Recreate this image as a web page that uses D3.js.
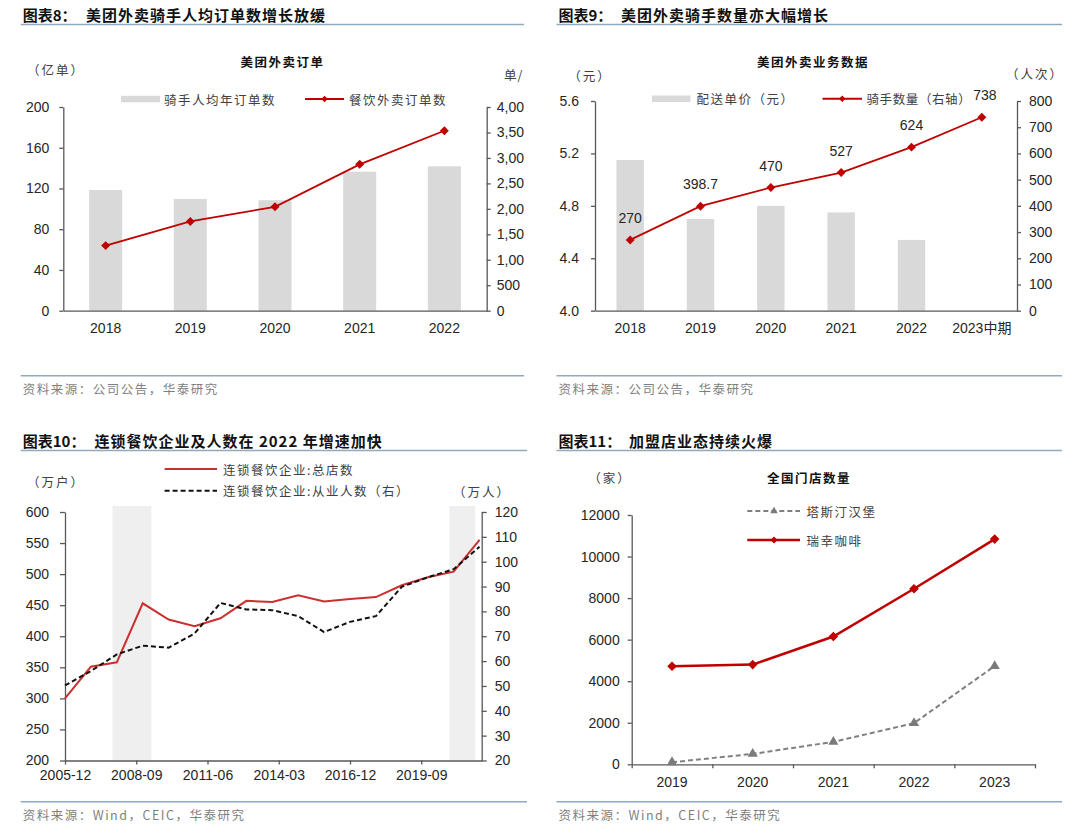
<!DOCTYPE html>
<html>
<head>
<meta charset="utf-8">
<script src="https://cdn.jsdelivr.net/npm/d3@7"></script>
<style>
  body { margin: 0; background: #fff; }
  svg { display: block; }
</style>
</head>
<body>
<div id="root"></div>
<script>
// ---- chart 8: meituan orders ----
const orderYears = ["2018", "2019", "2020", "2021", "2022"];
const riderOrdersPerCapita = [2370, 2195, 2170, 2730, 2835]; // 单/人, right axis
const foodOrders = [63.9, 87.6, 102.0, 143.7, 176.7]; // 亿单, left axis
const orderLeftTicks = [0, 40, 80, 120, 160, 200];
const orderRightTicks = [0, 500, 1000, 1500, 2000, 2500, 3000, 3500, 4000];

// ---- chart 9: riders ----
const riderYears = ["2018", "2019", "2020", "2021", "2022", "2023中期"];
const deliveryPrice = [5.15, 4.70, 4.80, 4.75, 4.54, null]; // 元
const riderCount = [270, 398.7, 470, 527, 624, 738]; // 万人次
const riderCountLabels = ["270", "398.7", "470", "527", "624", "738"];
const priceTicks = [4.0, 4.4, 4.8, 5.2, 5.6];
const riderTicks = [0, 100, 200, 300, 400, 500, 600, 700, 800];

// ---- chart 10: chain restaurants ----
const chainDates = ["2005-12", "2006-12", "2007-12", "2008-12", "2009-12", "2010-12",
  "2011-12", "2012-12", "2013-12", "2014-12", "2015-12", "2016-12", "2017-12",
  "2018-12", "2019-12", "2020-12", "2021-12"];
const chainStores = [300, 351, 358, 453, 427, 416, 429, 457, 455, 466, 456, 460, 463, 482, 495, 504, 555];
const chainEmployees = [50.2, 56.0, 62.7, 66.2, 65.4, 71.1, 83.4, 80.8, 80.5, 78.1, 71.7, 75.8, 78.1, 89.9, 93.7, 97.0, 106.0];
const chainTickLabels = ["2005-12", "2008-09", "2011-06", "2014-03", "2016-12", "2019-09"];
const chainAxisEnd = "2022-01";
const shadedPeriods = [["2007-10", "2009-04"], ["2020-10", "2021-10"]];
const storeTicks = [200, 250, 300, 350, 400, 450, 500, 550, 600];
const employeeTicks = [20, 30, 40, 50, 60, 70, 80, 90, 100, 110, 120];

// ---- chart 11: franchise stores ----
const storeYears = ["2019", "2020", "2021", "2022", "2023"];
const tastienStores = [100, 500, 1080, 1980, 4730];
const luckinStores = [4720, 4800, 6150, 8450, 10840];
const storeCountTicks = [0, 2000, 4000, 6000, 8000, 10000, 12000];

const RED = "#c00000";
const RED2 = "#cc2f2f";
const AXIS = "#595959";
const BAR = "#d9d9d9";
const RULE = "#8eaac3";
const INK = "#262626";
const SOFT = "#404040";
const CJK = '"Noto Sans CJK SC", sans-serif';
const NUM = '"Liberation Sans", Arial, "Noto Sans CJK SC", sans-serif';

const svg = d3.select("#root").append("svg").attr("width", 1080).attr("height", 828);

svg.append("defs").append("clipPath").attr("id", "clipLeftTop")
  .append("rect").attr("x", 0).attr("y", 0).attr("width", 524).attr("height", 414);

const diamondPath = (size) => d3.symbol(d3.symbolSquare, size)();
const trianglePath = (size) => d3.symbol(d3.symbolTriangle, size)();

function styleAxis(sel) {
  sel.select(".domain").attr("stroke", AXIS).attr("stroke-width", 1.3);
  sel.selectAll(".tick line").attr("stroke", AXIS).attr("stroke-width", 1.3);
  sel.selectAll(".tick text").attr("fill", INK)
    .style("font-family", NUM).style("font-size", "14px");
}

function cjkText(g, x, y, str, opts = {}) {
  return g.append("text")
    .attr("x", x).attr("y", y)
    .attr("dominant-baseline", "central")
    .attr("text-anchor", opts.anchor || "start")
    .attr("fill", opts.fill || SOFT)
    .style("font-family", CJK)
    .style("font-size", (opts.size || 12.5) + "px")
    .style("font-weight", opts.weight || 400)
    .style("letter-spacing", (opts.spacing ?? 1.5) + "px")
    .text(str);
}

function frame(g, o) {
  const t = g.append("text").attr("y", o.titleY)
    .attr("dominant-baseline", "central")
    .attr("fill", "#111")
    .style("font-family", CJK).style("font-size", "15px").style("font-weight", 700);
  t.append("tspan").attr("x", o.left + 2).text(o.label);
  t.append("tspan").attr("x", o.bodyX).style("letter-spacing", "1px").text(o.body);

  g.append("line").attr("x1", o.left).attr("x2", o.right)
    .attr("y1", o.ruleY).attr("y2", o.ruleY)
    .attr("stroke", RULE).attr("stroke-width", 1.6);
  g.append("line").attr("x1", o.left).attr("x2", o.right)
    .attr("y1", o.footY).attr("y2", o.footY)
    .attr("stroke", RULE).attr("stroke-width", 1.6);
  cjkText(g, o.left + 2, o.footY + 12.5, o.source, { fill: "#7f7f7f" });
}

function legendDiamond(g, x1, x2, y, color) {
  g.append("line").attr("x1", x1).attr("x2", x2).attr("y1", y).attr("y2", y)
    .attr("stroke", color).attr("stroke-width", 2);
  g.append("path").attr("d", diamondPath(22))
    .attr("transform", `translate(${(x1 + x2) / 2},${y}) rotate(45)`)
    .attr("fill", color);
}

// ================= chart 8 =================
function drawOrders() {
  const g = svg.append("g").attr("clip-path", "url(#clipLeftTop)");
  frame(g, {
    left: 20.7, right: 527, titleY: 13.5, ruleY: 24.5, footY: 375.7,
    label: "图表8：", body: "美团外卖骑手人均订单数增长放缓", bodyX: 86,
    source: "资料来源：公司公告，华泰研究"
  });

  const x0 = 63.3, x1 = 486.7, yTop = 107, yBot = 310.7;
  const x = d3.scaleBand().domain(orderYears).range([x0, x1]).paddingInner(0.61).paddingOuter(0.305);
  const yL = d3.scaleLinear().domain([0, 200]).range([yBot, yTop]);
  const yR = d3.scaleLinear().domain([0, 4000]).range([yBot, yTop]);

  cjkText(g, 282.5, 61, "美团外卖订单", { anchor: "middle", weight: 700, fill: "#111" });
  cjkText(g, 56, 69.5, "（亿单）", { anchor: "middle", spacing: 2 });
  cjkText(g, 504, 74, "单/人", { spacing: 1 });

  g.selectAll(".bar8").data(riderOrdersPerCapita).join("rect")
    .attr("class", "bar8")
    .attr("x", (d, i) => x(orderYears[i]))
    .attr("width", x.bandwidth())
    .attr("y", (d) => yR(d))
    .attr("height", (d) => yBot - yR(d))
    .attr("fill", BAR);

  g.append("g").attr("transform", `translate(${x0},0)`)
    .call(d3.axisLeft(yL).tickValues(orderLeftTicks).tickSize(4).tickSizeOuter(0).tickPadding(10))
    .call(styleAxis);
  g.append("g").attr("transform", `translate(${x1},0)`)
    .call(d3.axisRight(yR).tickValues(orderRightTicks).tickFormat(d3.format(","))
      .tickSize(4).tickSizeOuter(0).tickPadding(6))
    .call(styleAxis);
  g.append("g").attr("transform", `translate(0,${yBot})`)
    .call(d3.axisBottom(x).tickSize(0).tickPadding(12))
    .call(styleAxis);

  const cx = (i) => x(orderYears[i]) + x.bandwidth() / 2;
  const line = d3.line().x((d, i) => cx(i)).y((d) => yL(d));
  g.append("path").datum(foodOrders).attr("d", line)
    .attr("fill", "none").attr("stroke", RED).attr("stroke-width", 1.8);
  g.selectAll(".dot8").data(foodOrders).join("path")
    .attr("class", "dot8")
    .attr("d", diamondPath(40))
    .attr("transform", (d, i) => `translate(${cx(i)},${yL(d)}) rotate(45)`)
    .attr("fill", RED);

  // legend
  g.append("rect").attr("x", 121).attr("y", 95.8).attr("width", 39).attr("height", 6.5).attr("fill", BAR);
  cjkText(g, 164, 99, "骑手人均年订单数");
  legendDiamond(g, 305, 344, 99, RED);
  cjkText(g, 349, 99, "餐饮外卖订单数");
}

// ================= chart 9 =================
function drawRiders() {
  const g = svg.append("g");
  frame(g, {
    left: 556.5, right: 1062, titleY: 13.5, ruleY: 24.5, footY: 375.7,
    label: "图表9：", body: "美团外卖骑手数量亦大幅增长", bodyX: 621,
    source: "资料来源：公司公告，华泰研究"
  });

  const x0 = 595, x1 = 1017, yTop = 101, yBot = 310.7;
  const x = d3.scaleBand().domain(riderYears).range([x0, x1]).paddingInner(0.61).paddingOuter(0.305);
  const yL = d3.scaleLinear().domain([4.0, 5.6]).range([yBot, yTop]);
  const yR = d3.scaleLinear().domain([0, 800]).range([yBot, yTop]);

  cjkText(g, 813, 61, "美团外卖业务数据", { anchor: "middle", weight: 700, fill: "#111" });
  cjkText(g, 590, 75, "（元）", { anchor: "middle", spacing: 2 });
  cjkText(g, 1035, 73, "（人次）", { anchor: "middle", spacing: 2 });

  const barData = deliveryPrice.map((v, i) => ({ year: riderYears[i], v })).filter((d) => d.v != null);
  g.selectAll(".bar9").data(barData).join("rect")
    .attr("class", "bar9")
    .attr("x", (d) => x(d.year))
    .attr("width", x.bandwidth())
    .attr("y", (d) => yL(d.v))
    .attr("height", (d) => yBot - yL(d.v))
    .attr("fill", BAR);

  g.append("g").attr("transform", `translate(${x0},0)`)
    .call(d3.axisLeft(yL).tickValues(priceTicks).tickFormat(d3.format(".1f"))
      .tickSize(4).tickSizeOuter(0).tickPadding(12))
    .call(styleAxis);
  g.append("g").attr("transform", `translate(${x1},0)`)
    .call(d3.axisRight(yR).tickValues(riderTicks).tickSize(4).tickSizeOuter(0).tickPadding(8))
    .call(styleAxis);
  g.append("g").attr("transform", `translate(0,${yBot})`)
    .call(d3.axisBottom(x).tickSize(0).tickPadding(12))
    .call(styleAxis);

  const cx = (i) => x(riderYears[i]) + x.bandwidth() / 2;
  g.append("path").datum(riderCount)
    .attr("d", d3.line().x((d, i) => cx(i)).y((d) => yR(d)))
    .attr("fill", "none").attr("stroke", RED).attr("stroke-width", 1.8);
  g.selectAll(".dot9").data(riderCount).join("path")
    .attr("class", "dot9")
    .attr("d", diamondPath(40))
    .attr("transform", (d, i) => `translate(${cx(i)},${yR(d)}) rotate(45)`)
    .attr("fill", RED);
  g.selectAll(".lab9").data(riderCount).join("text")
    .attr("class", "lab9")
    .attr("x", (d, i) => cx(i) + (i === riderCount.length - 1 ? 3 : 0))
    .attr("y", (d) => yR(d) - 22)
    .attr("text-anchor", "middle")
    .attr("dominant-baseline", "central")
    .attr("fill", INK)
    .style("font-family", NUM).style("font-size", "14px")
    .text((d, i) => riderCountLabels[i]);

  // legend
  g.append("rect").attr("x", 652).attr("y", 95.5).attr("width", 38.5).attr("height", 6.5).attr("fill", BAR);
  cjkText(g, 696.5, 98.7, "配送单价（元）");
  legendDiamond(g, 822.5, 862, 98.7, RED);
  cjkText(g, 866.5, 98.7, "骑手数量（右轴）", { spacing: 0.6 });
}

// ================= chart 10 =================
function drawChain() {
  const g = svg.append("g");
  frame(g, {
    left: 20.7, right: 527, titleY: 440, ruleY: 450.5, footY: 801.7,
    label: "图表10：", body: "连锁餐饮企业及人数在 2022 年增速加快", bodyX: 94.5,
    source: "资料来源：Wind，CEIC，华泰研究"
  });

  const monthIndex = (s) => {
    const [yy, mm] = s.split("-").map(Number);
    return (yy - 2005) * 12 + (mm - 12);
  };
  const x0 = 65, x1 = 481.7, yTop = 512, yBot = 760.5;
  const x = d3.scaleLinear().domain([monthIndex(chainDates[0]), monthIndex(chainAxisEnd)]).range([x0, x1]);
  const yL = d3.scaleLinear().domain([200, 600]).range([yBot, yTop]);
  const yR = d3.scaleLinear().domain([20, 120]).range([yBot, yTop]);

  g.selectAll(".shade").data(shadedPeriods).join("rect")
    .attr("class", "shade")
    .attr("x", (d) => x(monthIndex(d[0])))
    .attr("width", (d) => x(monthIndex(d[1])) - x(monthIndex(d[0])))
    .attr("y", yTop - 6)
    .attr("height", yBot - yTop + 6)
    .attr("fill", "#efefef");

  g.append("g").attr("transform", `translate(${x0},0)`)
    .call(d3.axisLeft(yL).tickValues(storeTicks).tickSize(5).tickSizeOuter(0).tickPadding(11))
    .call(styleAxis);
  g.append("g").attr("transform", `translate(${x1},0)`)
    .call(d3.axisRight(yR).tickValues(employeeTicks).tickSize(5).tickSizeOuter(0).tickPadding(8))
    .call(styleAxis);
  g.append("g").attr("transform", `translate(0,${yBot})`)
    .call(d3.axisBottom(x).tickValues(chainTickLabels.map(monthIndex))
      .tickFormat((d, i) => chainTickLabels[i]).tickSize(4).tickSizeOuter(0).tickPadding(6))
    .call(styleAxis);

  const px = (i) => x(monthIndex(chainDates[i]));
  g.append("path").datum(chainStores)
    .attr("d", d3.line().x((d, i) => px(i)).y((d) => yL(d)))
    .attr("fill", "none").attr("stroke", RED2).attr("stroke-width", 2);
  g.append("path").datum(chainEmployees)
    .attr("d", d3.line().x((d, i) => px(i)).y((d) => yR(d)))
    .attr("fill", "none").attr("stroke", "#111").attr("stroke-width", 2)
    .attr("stroke-dasharray", "5,3");

  cjkText(g, 56, 481, "（万户）", { anchor: "middle", spacing: 2 });
  cjkText(g, 482, 491, "（万人）", { anchor: "middle", spacing: 2 });

  g.append("line").attr("x1", 164.6).attr("x2", 217).attr("y1", 469).attr("y2", 469)
    .attr("stroke", RED2).attr("stroke-width", 2);
  cjkText(g, 223, 469, "连锁餐饮企业:总店数");
  g.append("line").attr("x1", 164.6).attr("x2", 217).attr("y1", 490.7).attr("y2", 490.7)
    .attr("stroke", "#111").attr("stroke-width", 2).attr("stroke-dasharray", "5,3");
  cjkText(g, 223, 490.7, "连锁餐饮企业:从业人数（右）");
}

// ================= chart 11 =================
function drawStores() {
  const g = svg.append("g");
  frame(g, {
    left: 556.5, right: 1062, titleY: 440, ruleY: 450.5, footY: 801.7,
    label: "图表11：", body: "加盟店业态持续火爆", bodyX: 629,
    source: "资料来源：Wind，CEIC，华泰研究"
  });

  const x0 = 631.7, x1 = 1035, yTop = 515, yBot = 764.3;
  const x = d3.scaleBand().domain(storeYears).range([x0, x1]).padding(0);
  const xEdge = d3.scaleLinear().domain([0, storeYears.length]).range([x0, x1]);
  const y = d3.scaleLinear().domain([0, 12000]).range([yBot, yTop]);

  cjkText(g, 809, 477.5, "全国门店数量", { anchor: "middle", weight: 700, fill: "#111" });
  cjkText(g, 610, 477.5, "（家）", { anchor: "middle", spacing: 2 });

  g.append("g").attr("transform", `translate(${x0},0)`)
    .call(d3.axisLeft(y).tickValues(storeCountTicks).tickFormat(d3.format("d"))
      .tickSize(4).tickSizeOuter(0).tickPadding(8))
    .call(styleAxis);
  g.append("g").attr("transform", `translate(0,${yBot})`)
    .call(d3.axisBottom(xEdge).tickValues(d3.range(storeYears.length + 1)).tickFormat("")
      .tickSize(4).tickSizeOuter(0))
    .call(styleAxis);
  g.append("g").attr("transform", `translate(0,${yBot})`)
    .call(d3.axisBottom(x).tickSize(0).tickPadding(13))
    .call(styleAxis)
    .call((s) => s.select(".domain").remove());

  const cx = (i) => x(storeYears[i]) + x.bandwidth() / 2;
  g.append("path").datum(tastienStores)
    .attr("d", d3.line().x((d, i) => cx(i)).y((d) => y(d)))
    .attr("fill", "none").attr("stroke", "#808080").attr("stroke-width", 2)
    .attr("stroke-dasharray", "5,3");
  g.selectAll(".tri").data(tastienStores).join("path")
    .attr("class", "tri")
    .attr("d", trianglePath(45))
    .attr("transform", (d, i) => `translate(${cx(i)},${y(d)})`)
    .attr("fill", "#7a7a7a");

  g.append("path").datum(luckinStores)
    .attr("d", d3.line().x((d, i) => cx(i)).y((d) => y(d)))
    .attr("fill", "none").attr("stroke", RED).attr("stroke-width", 2.5);
  g.selectAll(".dot11").data(luckinStores).join("path")
    .attr("class", "dot11")
    .attr("d", diamondPath(46))
    .attr("transform", (d, i) => `translate(${cx(i)},${y(d)}) rotate(45)`)
    .attr("fill", RED);

  // legend
  g.append("line").attr("x1", 747.3).attr("x2", 800).attr("y1", 511).attr("y2", 511)
    .attr("stroke", "#808080").attr("stroke-width", 2).attr("stroke-dasharray", "5,3");
  g.append("path").attr("d", trianglePath(24))
    .attr("transform", "translate(774,511)").attr("fill", "#7a7a7a");
  cjkText(g, 806.5, 511, "塔斯汀汉堡");
  g.append("line").attr("x1", 747.3).attr("x2", 800).attr("y1", 540).attr("y2", 540)
    .attr("stroke", RED).attr("stroke-width", 2.5);
  g.append("path").attr("d", diamondPath(26))
    .attr("transform", "translate(774,540) rotate(45)").attr("fill", RED);
  cjkText(g, 806.5, 540, "瑞幸咖啡");
}

drawOrders();
drawRiders();
drawChain();
drawStores();
</script>
</body>
</html>
